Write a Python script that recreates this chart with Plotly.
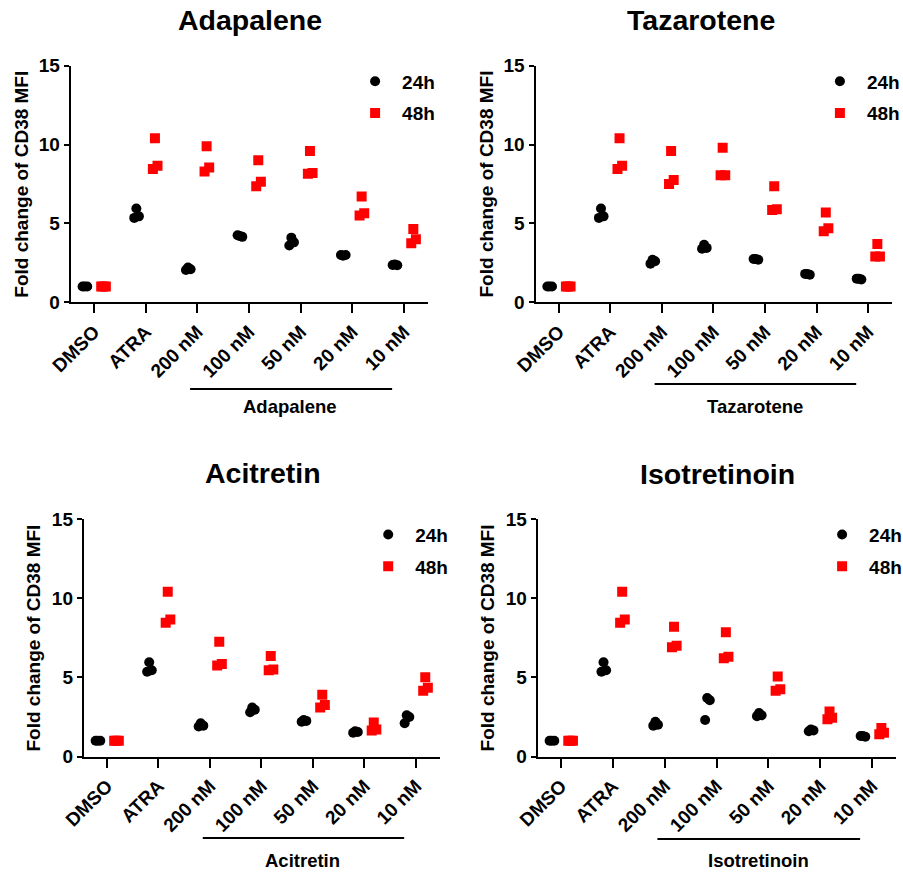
import plotly.graph_objects as go

W, H = 903, 873

categories = ["DMSO", "ATRA", "200 nM", "100 nM", "50 nM", "20 nM", "10 nM"]
drugs = ["Adapalene", "Tazarotene", "Acitretin", "Isotretinoin"]
y_ticks = [0, 5, 10, 15]

# replicate values per category (3 replicates each)
adapalene_24h = [[1.0, 1.0, 1.0], [5.95, 5.45, 5.35], [2.2, 2.1, 2.05], [4.2, 4.15, 4.25],
                 [4.1, 3.8, 3.6], [2.95, 3.0, 3.0], [2.4, 2.35, 2.37]]
adapalene_48h = [[1.0, 1.0, 1.0], [10.4, 8.65, 8.45], [9.9, 8.55, 8.3], [9.0, 7.65, 7.35],
                 [9.6, 8.2, 8.15], [6.7, 5.65, 5.5], [4.65, 4.0, 3.75]]
tazarotene_24h = [[1.0, 1.0, 1.0], [5.95, 5.45, 5.35], [2.7, 2.6, 2.45], [3.65, 3.45, 3.4],
                  [2.75, 2.7, 2.75], [1.8, 1.75, 1.8], [1.5, 1.45, 1.5]]
tazarotene_48h = [[1.0, 1.0, 1.0], [10.4, 8.65, 8.45], [9.6, 7.75, 7.5], [9.8, 8.05, 8.05],
                  [7.35, 5.9, 5.85], [5.7, 4.7, 4.5], [3.7, 2.9, 2.9]]
acitretin_24h = [[1.0, 1.0, 1.0], [5.95, 5.45, 5.35], [2.1, 1.95, 1.9], [3.1, 2.95, 2.8],
                 [2.3, 2.25, 2.2], [1.6, 1.55, 1.5], [2.6, 2.5, 2.1]]
acitretin_48h = [[1.0, 1.0, 1.0], [10.4, 8.65, 8.45], [7.25, 5.85, 5.75], [6.35, 5.5, 5.45],
                 [3.9, 3.25, 3.1], [2.15, 1.7, 1.65], [5.0, 4.35, 4.15]]
isotretinoin_24h = [[1.0, 1.0, 1.0], [5.95, 5.45, 5.35], [2.2, 2.0, 1.95], [3.7, 3.55, 2.3],
                    [2.75, 2.6, 2.55], [1.7, 1.65, 1.6], [1.3, 1.25, 1.3]]
isotretinoin_48h = [[1.0, 1.0, 1.0], [10.4, 8.65, 8.45], [8.2, 7.0, 6.9], [7.85, 6.3, 6.2],
                    [5.05, 4.25, 4.15], [2.85, 2.45, 2.35], [1.8, 1.5, 1.4]]

data_24h = [adapalene_24h, tazarotene_24h, acitretin_24h, isotretinoin_24h]
data_48h = [adapalene_48h, tazarotene_48h, acitretin_48h, isotretinoin_48h]

group_offset = {"24h": -0.18, "48h": 0.18}
replicate_jitter = [0.0, 0.05, -0.04]

# panel geometry in pixels: (x_left, x_right, y_top, y_bottom)
panels = [
    (70.7, 428.3, 65.7, 302.3),
    (535.5, 892.3, 65.7, 302.3),
    (83.8, 440.2, 519.0, 756.5),
    (537.7, 896.4, 519.0, 756.5),
]
titles_pos = [(250, 20), (701, 20), (263, 473), (717, 474)]
bracket_y = [389, 384, 838, 839]
bracket_label_y = [406, 406, 860, 860]

FONT = "Arial, Liberation Sans, sans-serif"
fig = go.Figure()
annotations = []
shapes = []

for p, (drug, d24, d48) in enumerate(zip(drugs, data_24h, data_48h)):
    idx = "" if p == 0 else str(p + 1)
    xa, ya = "x" + idx, "y" + idx
    lg = "legend" + idx
    for name, dset, color, symbol in [("24h", d24, "black", "circle"),
                                      ("48h", d48, "#ff0000", "square")]:
        xs, ys = [], []
        for ci, reps in enumerate(dset):
            for ri, v in enumerate(reps):
                xs.append(ci + group_offset[name] + replicate_jitter[ri])
                ys.append(v)
        fig.add_trace(go.Scatter(
            x=xs, y=ys, mode="markers", name=name, xaxis=xa, yaxis=ya,
            marker=dict(color=color, symbol=symbol, size=10, line=dict(width=0)),
            legend=lg, legendgroup=drug + name, showlegend=True,
        ))
    xl, xr, yt, yb = panels[p]
    axis_common = dict(showline=True, linecolor="black", linewidth=2, ticks="outside",
                       tickcolor="black", tickwidth=2, showgrid=False, zeroline=False,
                       automargin=False,
                       tickfont=dict(family=FONT, size=19, color="black", weight="bold"))
    fig.layout["xaxis" + idx] = dict(
        domain=[xl / W, xr / W], anchor=ya, range=[-0.45, 6.47],
        tickvals=list(range(len(categories))), ticktext=categories,
        tickangle=-45, ticklen=9, fixedrange=True, **axis_common)
    fig.layout["yaxis" + idx] = dict(
        domain=[1 - yb / H, 1 - yt / H], anchor=xa, range=[0, 15],
        tickvals=y_ticks, ticklen=5, fixedrange=True, **axis_common)
    # legend
    fig.layout[lg] = dict(
        x=(xl + 277.4) / W, y=1 - (yt - 3.3) / H, xanchor="left", yanchor="top",
        bgcolor="rgba(0,0,0,0)", borderwidth=0, tracegroupgap=4, itemwidth=44,
        font=dict(family=FONT, size=19, color="black", weight="bold"))
    # titles
    tx, ty = titles_pos[p]
    annotations.append(dict(text="<b>%s</b>" % drug, x=tx / W, y=1 - ty / H, xref="paper",
                            yref="paper", showarrow=False, xanchor="center", yanchor="middle",
                            font=dict(family=FONT, size=28.5, color="black")))
    # y axis title
    annotations.append(dict(text="<b>Fold change of CD38 MFI</b>", x=(xl - 50) / W,
                            y=1 - (yt + yb) / 2 / H, xref="paper", yref="paper",
                            showarrow=False, textangle=-90, xanchor="center", yanchor="middle",
                            font=dict(family=FONT, size=19, color="black")))
    # bracket under drug concentrations
    shapes.append(dict(type="line", xref=xa, yref="paper", x0=1.86, x1=5.77,
                       y0=1 - bracket_y[p] / H, y1=1 - bracket_y[p] / H,
                       line=dict(color="black", width=2)))
    annotations.append(dict(text="<b>%s</b>" % drug, xref=xa, yref="paper", x=3.8,
                            y=1 - bracket_label_y[p] / H, showarrow=False,
                            xanchor="center", yanchor="middle",
                            font=dict(family=FONT, size=18.5, color="black")))

fig.update_layout(
    width=W, height=H, margin=dict(l=0, r=0, t=0, b=0, autoexpand=False),
    paper_bgcolor="white", plot_bgcolor="white",
    annotations=annotations, shapes=shapes,
    font=dict(family=FONT, color="black"),
)

fig.write_html("out.html", config={"displayModeBar": False},
               post_script="document.body.style.margin='0';document.body.style.overflow='hidden';")
